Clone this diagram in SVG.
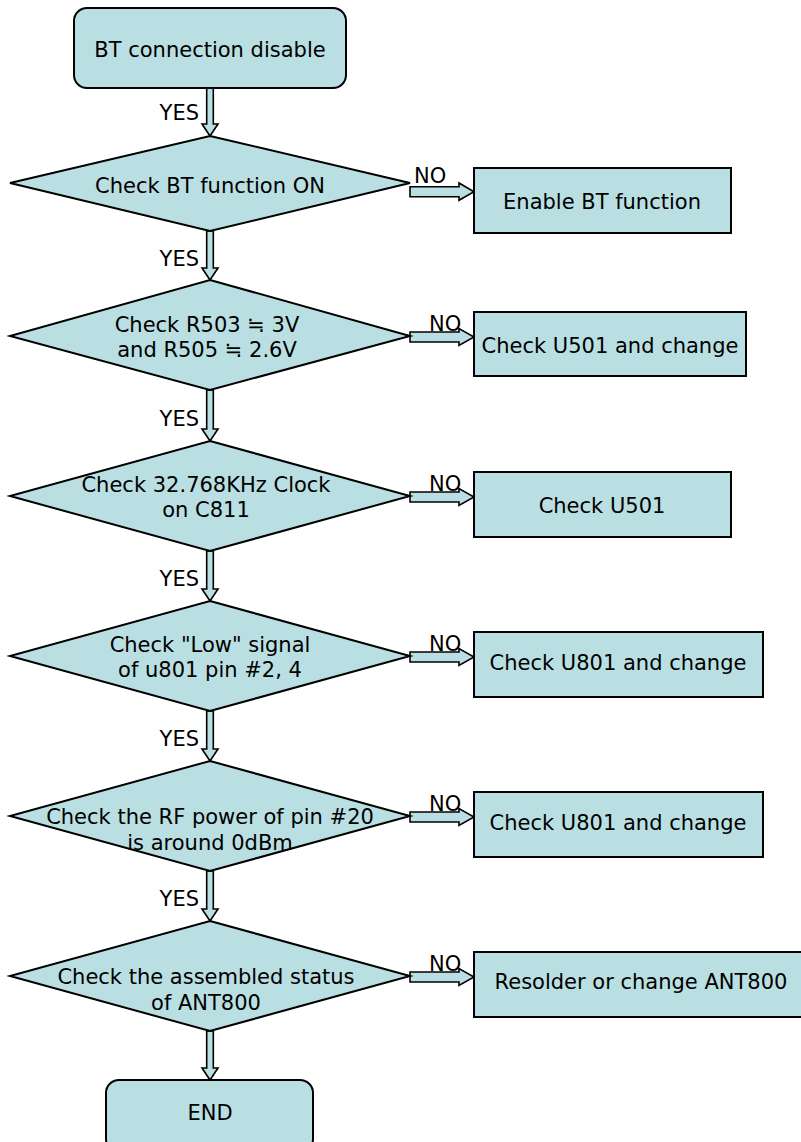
<svg xmlns="http://www.w3.org/2000/svg" width="801" height="1142" viewBox="0 0 801 1142">
<style>
.n{fill:#BADFE2;stroke:#000;stroke-width:2}
.a{fill:#BADFE2;stroke:#000;stroke-width:1.6;stroke-linejoin:miter}
text{font-family:"DejaVu Sans","Liberation Sans",sans-serif;font-size:21px;fill:#000}
.c{text-anchor:middle}
</style>
<rect width="801" height="1142" fill="#fff"/>
<g id="connectors">
<path class="a" d="M206.7,88 V124 H202 L210,136 L218,124 H213.3 V88 Z"/>
<path class="a" d="M206.7,231 V268 H202 L210,280 L218,268 H213.3 V231 Z"/>
<path class="a" d="M206.7,390 V429 H202 L210,441 L218,429 H213.3 V390 Z"/>
<path class="a" d="M206.7,551 V589 H202 L210,601 L218,589 H213.3 V551 Z"/>
<path class="a" d="M206.7,711 V749 H202 L210,761 L218,749 H213.3 V711 Z"/>
<path class="a" d="M206.7,871 V909 H202 L210,921 L218,909 H213.3 V871 Z"/>
<path class="a" d="M206.7,1031 V1068 H202 L210,1080 L218,1068 H213.3 V1031 Z"/>
<text x="199" y="120" text-anchor="end">YES</text>
<text x="199" y="266" text-anchor="end">YES</text>
<text x="199" y="426" text-anchor="end">YES</text>
<text x="199" y="586" text-anchor="end">YES</text>
<text x="199" y="746" text-anchor="end">YES</text>
<text x="199" y="906" text-anchor="end">YES</text>
<path class="a" d="M410,186.7 H459 V183 L474,191.7 L459,200.3 V196.7 H410 Z"/>
<path class="a" d="M410,332 H459 V328.5 L474,337 L459,345.5 V342 H410 Z"/>
<path class="a" d="M410,492 H459 V488.5 L474,497 L459,505.5 V502 H410 Z"/>
<path class="a" d="M410,652 H459 V648.5 L474,657 L459,665.5 V662 H410 Z"/>
<path class="a" d="M410,812 H459 V808.5 L474,817 L459,825.5 V822 H410 Z"/>
<path class="a" d="M410,972 H459 V968.5 L474,977 L459,985.5 V982 H410 Z"/>
<text x="414" y="183">NO</text>
<text x="429" y="331">NO</text>
<text x="429" y="491">NO</text>
<text x="429" y="651">NO</text>
<text x="429" y="811">NO</text>
<text x="429" y="971">NO</text>
</g>
<g id="start">
<rect class="n" x="74" y="8" width="272" height="80" rx="13"/>
<text class="c" x="210" y="57">BT connection disable</text>
</g>
<g id="d1">
<polygon class="n" points="210,136 410,183 210,231 10,183"/>
<text class="c" x="210" y="193">Check BT function ON</text>
</g>
<g id="b1">
<rect class="n" x="474" y="168" width="257" height="65"/>
<text class="c" x="602" y="209">Enable BT function</text>
</g>
<g id="d2">
<polygon class="n" points="210,280 410,336 210,390 10,336"/>
<text class="c" x="207" y="332">Check R503 ≒ 3V</text>
<text class="c" x="207" y="357">and R505 ≒ 2.6V</text>
</g>
<g id="b2">
<rect class="n" x="474" y="312" width="272" height="64"/>
<text class="c" x="610" y="353">Check U501 and change</text>
</g>
<g id="d3">
<polygon class="n" points="210,441 410,496 210,551 10,496"/>
<text class="c" x="206" y="492">Check 32.768KHz Clock</text>
<text class="c" x="206" y="517">on C811</text>
</g>
<g id="b3">
<rect class="n" x="474" y="472" width="257" height="65"/>
<text class="c" x="602" y="513">Check U501</text>
</g>
<g id="d4">
<polygon class="n" points="210,601 410,656 210,711 10,656"/>
<text class="c" x="210" y="652">Check "Low" signal</text>
<text class="c" x="210" y="677">of u801 pin #2, 4</text>
</g>
<g id="b4">
<rect class="n" x="474" y="632" width="289" height="65"/>
<text class="c" x="618" y="670">Check U801 and change</text>
</g>
<g id="d5">
<polygon class="n" points="210,761 410,816 210,871 10,816"/>
<text class="c" x="210" y="824">Check the RF power of pin #20</text>
<text class="c" x="210" y="850">is around 0dBm</text>
</g>
<g id="b5">
<rect class="n" x="474" y="792" width="289" height="65"/>
<text class="c" x="618" y="830">Check U801 and change</text>
</g>
<g id="d6">
<polygon class="n" points="210,921 410,976 210,1031 10,976"/>
<text class="c" x="206" y="984">Check the assembled status</text>
<text class="c" x="206" y="1010">of ANT800</text>
</g>
<g id="b6">
<rect class="n" x="474" y="952" width="334" height="65"/>
<text class="c" x="641" y="989">Resolder or change ANT800</text>
</g>
<g id="end">
<rect class="n" x="106" y="1080" width="207" height="72" rx="13"/>
<text class="c" x="210" y="1120">END</text>
</g>
</svg>
